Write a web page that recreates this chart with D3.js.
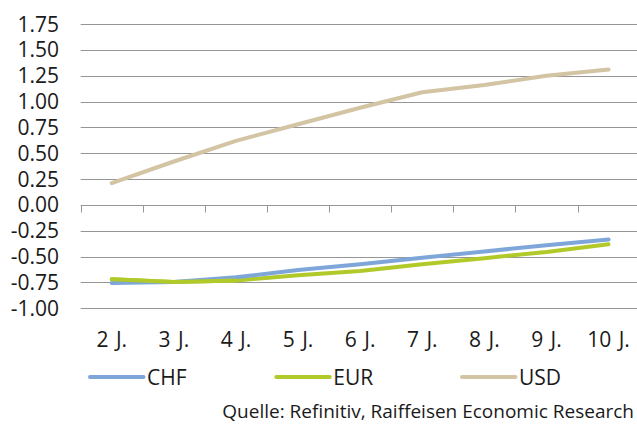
<!DOCTYPE html>
<html>
<head>
<meta charset="utf-8">
<script src="https://cdn.jsdelivr.net/npm/d3@7"></script>
<style>
  html, body { margin: 0; padding: 0; background: #fff; }
  svg { display: block; }
  text { font-family: "Open Sans", "Noto Sans", sans-serif; fill: #1a1a1a; }
</style>
</head>
<body>
<svg id="chart" width="637" height="424"></svg>
<script>
const categories = ["2 J.", "3 J.", "4 J.", "5 J.", "6 J.", "7 J.", "8 J.", "9 J.", "10 J."];
const chf = [-0.755, -0.745, -0.70, -0.63, -0.575, -0.51, -0.45, -0.39, -0.335];
const eur = [-0.72, -0.745, -0.73, -0.68, -0.64, -0.575, -0.515, -0.455, -0.38];
const usd = [0.21, 0.42, 0.62, 0.78, 0.94, 1.09, 1.16, 1.25, 1.31];
const yTicks = [1.75, 1.5, 1.25, 1.0, 0.75, 0.5, 0.25, 0.0, -0.25, -0.5, -0.75, -1.0];
const seriesNames = ["CHF", "EUR", "USD"];
const source = "Quelle: Refinitiv, Raiffeisen Economic Research";

const colors = { CHF: "#7ea6d9", EUR: "#b2c92a", USD: "#d3c4a3" };
const gridColor = "#969696";

const svg = d3.select("#chart");
const x = d3.scaleBand().domain(categories).range([80.7, 639.6]).padding(0);
const y = d3.scaleLinear().domain([-1, 1.75]).range([308.3, 24]);
const fmt = d3.formatLocale({ decimal: ".", thousands: ",", grouping: [3], currency: ["", ""], minus: "-" }).format(".2f");

// Grid lines
svg.append("g").selectAll("line")
  .data(yTicks)
  .join("line")
  .attr("x1", x.range()[0]).attr("x2", x.range()[1])
  .attr("y1", d => Math.round(y(d)) + 0.5).attr("y2", d => Math.round(y(d)) + 0.5)
  .attr("stroke", gridColor).attr("stroke-width", 1);

// Y labels
svg.append("g").selectAll("text")
  .data(yTicks)
  .join("text")
  .attr("x", 59).attr("y", d => y(d) + 7.5)
  .attr("text-anchor", "end")
  .attr("font-size", 21)
  .text(d => fmt(d));

// X axis ticks at band boundaries (at y = 0)
const y0 = Math.round(y(0)) + 0.5;
const bounds = categories.map(c => x(c)).concat([x.range()[1]]);
svg.append("g").selectAll("line")
  .data(bounds)
  .join("line")
  .attr("x1", d => Math.round(d) + 0.5).attr("x2", d => Math.round(d) + 0.5)
  .attr("y1", y0).attr("y2", y0 + 7)
  .attr("stroke", gridColor).attr("stroke-width", 1);

// X labels
svg.append("g").selectAll("text")
  .data(categories)
  .join("text")
  .attr("x", d => x(d) + x.bandwidth() / 2)
  .attr("y", 347)
  .attr("text-anchor", "middle")
  .attr("font-size", 21)
  .attr("word-spacing", 2)
  .text(d => d);

// Lines
const line = d3.line()
  .x((d, i) => x(categories[i]) + x.bandwidth() / 2)
  .y(d => y(d));
const data = { CHF: chf, EUR: eur, USD: usd };
["USD", "EUR", "CHF"].forEach(name => {
  svg.append("path")
    .datum(data[name])
    .attr("d", line)
    .attr("fill", "none")
    .attr("stroke", colors[name])
    .attr("stroke-width", 4)
    .attr("stroke-linecap", "round")
    .attr("stroke-linejoin", "round");
});
// EUR drawn over CHF where they overlap at the start
svg.append("path")
  .datum(eur.slice(0, 3))
  .attr("d", line)
  .attr("fill", "none")
  .attr("stroke", colors.EUR)
  .attr("stroke-width", 4)
  .attr("stroke-linecap", "round")
  .attr("stroke-linejoin", "round");

// Legend
const legendX = [90, 276.3, 462];
const legend = svg.append("g");
seriesNames.forEach((name, i) => {
  legend.append("line")
    .attr("x1", legendX[i]).attr("x2", legendX[i] + 53.5)
    .attr("y1", 377).attr("y2", 377)
    .attr("stroke", colors[name]).attr("stroke-width", 4)
    .attr("stroke-linecap", "round");
  legend.append("text")
    .attr("x", legendX[i] + 57).attr("y", 384.5)
    .attr("font-size", 21)
    .text(name);
});

// Source
svg.append("text")
  .attr("x", 634).attr("y", 418)
  .attr("text-anchor", "end")
  .attr("font-size", 19)
  .text(source);
</script>
</body>
</html>
